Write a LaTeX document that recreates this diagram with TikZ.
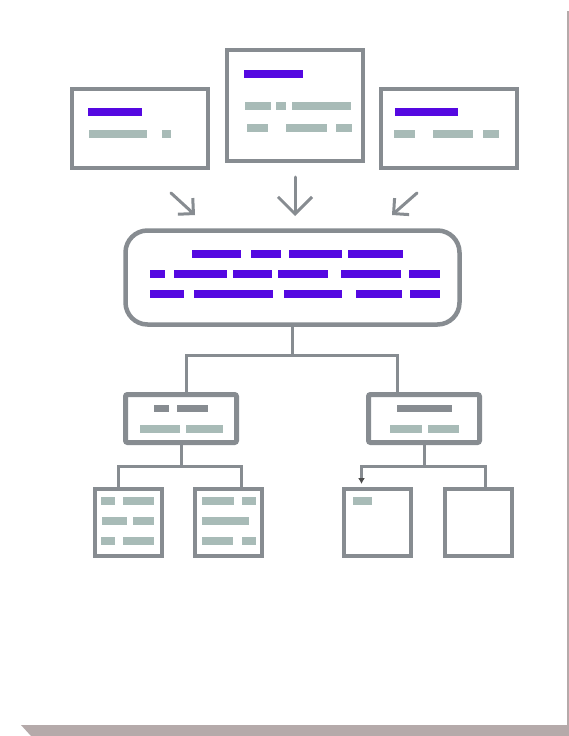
\documentclass[tikz,border=0pt]{standalone}
\usetikzlibrary{arrows.meta,positioning,calc}
\definecolor{edge}{RGB}{135,140,145}
\definecolor{ink}{RGB}{85,8,225}
\definecolor{fog}{RGB}{168,187,183}
\definecolor{pageshade}{RGB}{181,170,170}

\begin{document}
\begin{tikzpicture}[x=1pt, y=-1pt,
		card/.style={draw=edge, line width=4pt, fill=white, inner sep=0pt},
		hubbox/.style={card, line width=4.5pt, rounded corners=22pt},
		midbox/.style={card, line width=5pt, rounded corners=2pt},
		conn/.style={draw=edge, line width=3pt},
		flow/.style={draw=edge, line width=3pt, line cap=round},
		bigtip/.style={-{Straight Barb[length=17pt,width=34pt]}},
		smalltip/.style={-{Straight Barb[length=11pt,width=22pt]}}]
			\useasboundingbox (0,0) rectangle (569,736);
			\fill[white] (0,0) rectangle (569,736);
			\fill[pageshade] (567,11) -- (569,11) -- (569,736) -- (31,736) -- (21,725) -- (567,725) -- cycle;
			
			\node[card, minimum width=136, minimum height=79] (srcL) at (140,128.5) {};
			\node[card, minimum width=136, minimum height=111] (srcC) at (295,105.5) {};
			\node[card, minimum width=136, minimum height=79] (srcR) at (449,128.5) {};
			\node[hubbox, minimum width=334, minimum height=94] (hub) at (292.5,277.5) {};
			\node[midbox, minimum width=111, minimum height=48] (midL) at (181,418.5) {};
			\node[midbox, minimum width=111, minimum height=48] (midR) at (424,418.5) {};
			\foreach \n/\x in {leaf1/128, leaf2/228.7, leaf3/377.5, leaf4/478.3}
				\node[card, minimum width=67, minimum height=67] (\n) at (\x,522.5) {};
			
			\coordinate (inL) at (195,215);
			\coordinate (inC) at (295,216);
			\coordinate (inR) at (392,215);
			\draw[flow, smalltip] ($(srcL.south east)+(-39,23)$) -- (inL);
			\draw[flow, bigtip] ($(srcC.south)+(0,14)$) -- (inC);
			\draw[flow, smalltip] ($(srcR.south west)+(38,23)$) -- (inR);
			
			\coordinate (j0) at ($(hub.south)+(0,29)$);
			\coordinate (j1) at ($(midL.south)+(0,21)$);
			\coordinate (j2) at ($(midR.south)+(0,21)$);
			\draw[conn] (hub.south) -- (j0);
			\draw[conn] ([xshift=5pt]midL.north) |- (j0) -| ([xshift=-27pt]midR.north);
			\draw[conn] (midL.south) -- (j1);
			\draw[conn] ([xshift=-10pt]leaf1.north) |- (j1) -| ([xshift=13pt]leaf2.north);
			\draw[conn] (midR.south) -- (j2);
			\draw[conn] (j2) -| ([xshift=7pt]leaf4.north);
			\draw[conn, -{Latex[length=6pt,width=7pt,color=black!70]}, shorten >=3pt] (j2) -| ([xshift=-16pt]leaf3.north);
			
			\foreach \a/\b/\y in {88/142/108, 244/303/70, 395/458/108,
				192/241/250, 251/281/250, 289/342/250, 348/403/250,
				150/165/270, 174/227/270, 233/272/270, 278/328/270, 341/401/270, 409/440/270,
				150/184/290, 194/273/290, 284/342/290, 356/402/290, 410/440/290}
				\fill[ink] (\a,\y) rectangle (\b,\y+7.5);
			\foreach \a/\b/\y in {154/169/405, 177/208/405, 397/452/405}
				\fill[edge] (\a,\y) rectangle (\b,\y+7);
			\foreach \a/\b/\y in {89/147/130, 162/171/130,
				245/271/102, 276/286/102, 292/351/102, 247/268/124, 286/327/124, 336/352/124,
				394/415/130, 433/473/130, 483/499/130,
				140/180/425, 186/223/425, 390/422/425, 428/459/425,
				101/115/497, 123/154/497, 102/127/517, 133/154/517, 101/115/537, 123/154/537,
				202/234/497, 242/256/497, 202/249/517, 202/233/537, 242/256/537,
				353/372/497}
				\fill[fog] (\a,\y) rectangle (\b,\y+7.5);
			
		\end{tikzpicture}
\end{document}
